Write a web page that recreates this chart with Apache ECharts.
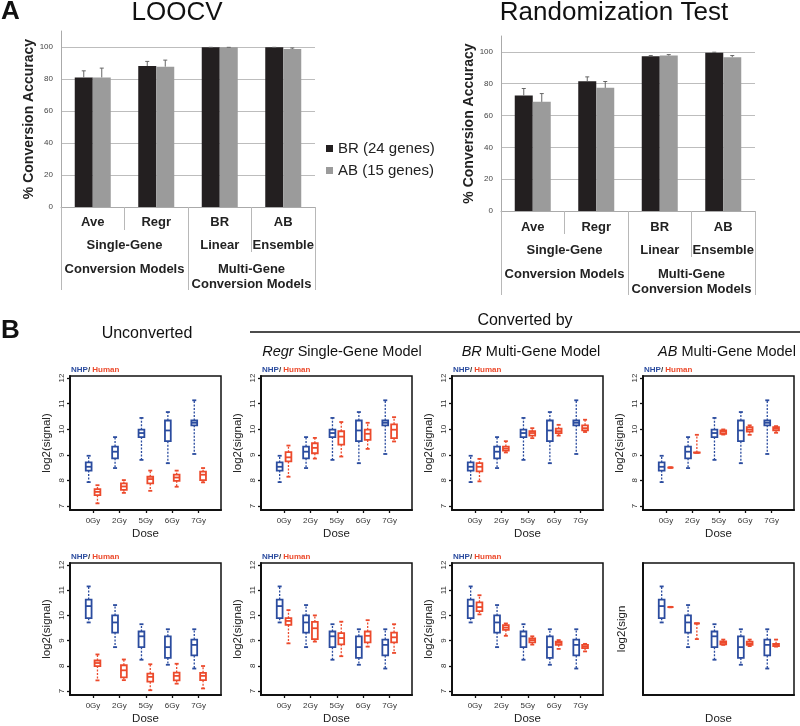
<!DOCTYPE html>
<html>
<head>
<meta charset="UTF-8">
<script src="https://cdn.jsdelivr.net/npm/echarts@6.0.0/dist/echarts.min.js"></script>
<style>
body { margin:0; padding:0; background:#fff; }
#chart { width:800px; height:726px; }
</style>
</head>
<body><div id="chart"></div>
<script>
// ---- panel A: conversion accuracy ----
var models = ['Ave', 'Regr', 'BR', 'AB'];
var modelRow2 = ['', '', 'Linear', 'Ensemble'];
var groupRow2 = ['Single-Gene', ' '];
var groupRow3 = ['Conversion Models', 'Multi-Gene\nConversion Models'];
var accTicks = [0, 20, 40, 60, 80, 100];

var loocvBR = [81.0, 88.1, 99.8, 99.8];
var loocvBRErr = [85.1, 91.0, 99.8, 99.8];
var loocvAB = [81.0, 87.7, 99.8, 98.7];
var loocvABErr = [86.8, 91.8, 99.8, 99.4];

var randBR = [72.6, 81.6, 97.3, 99.4];
var randBRErr = [77.0, 84.3, 97.7, 99.8];
var randAB = [68.6, 77.4, 97.7, 96.7];
var randABErr = [73.8, 81.4, 98.3, 97.7];

// ---- panel B: log2(signal) boxes, [low, Q1, median, Q3, high] per dose ----
var doses = ['0Gy', '2Gy', '5Gy', '6Gy', '7Gy'];
var signalTicks = [7, 8, 9, 10, 11, 12];

var nhpTop = [[7.93, 8.38, 8.53, 8.70, 8.96], [8.48, 8.86, 9.12, 9.32, 9.69], [8.80, 9.69, 9.85, 9.98, 10.44], [8.67, 9.53, 9.95, 10.34, 10.67], [9.03, 10.15, 10.25, 10.34, 11.13]];
var unconvTop = [[7.10, 7.42, 7.55, 7.66, 7.81], [7.51, 7.63, 7.76, 7.88, 8.01], [7.59, 7.88, 8.05, 8.14, 8.38], [7.75, 7.98, 8.11, 8.22, 8.38], [7.92, 8.01, 8.22, 8.34, 8.48]];
var regrTop = [[8.14, 8.74, 8.90, 9.10, 9.36], [8.85, 9.06, 9.27, 9.45, 9.66], [8.93, 9.40, 9.71, 9.92, 10.28], [9.23, 9.58, 9.82, 9.98, 10.25], [9.52, 9.65, 9.98, 10.19, 10.47]];
var brTop = [[7.96, 8.35, 8.53, 8.67, 8.84], [9.09, 9.16, 9.24, 9.32, 9.53], [9.65, 9.75, 9.85, 9.92, 10.04], [9.75, 9.85, 9.92, 10.02, 10.17], [9.89, 9.95, 10.04, 10.15, 10.37]];
var abTop = [[8.49, 8.50, 8.50, 8.50, 8.51], [9.08, 9.08, 9.08, 9.09, 9.78], [9.79, 9.82, 9.90, 9.95, 9.99], [9.78, 9.91, 9.99, 10.08, 10.15], [9.86, 9.95, 10.02, 10.08, 10.12]];

var nhpBot = [[9.72, 9.89, 10.37, 10.63, 11.15], [8.74, 9.32, 9.72, 10.00, 10.41], [8.24, 8.74, 9.17, 9.36, 9.65], [8.04, 8.31, 8.74, 9.17, 9.45], [7.89, 8.41, 8.83, 9.04, 9.45]];
var unconvBot = [[7.42, 7.99, 8.11, 8.21, 8.45], [7.43, 7.54, 7.82, 8.02, 8.25], [7.03, 7.37, 7.56, 7.69, 8.06], [7.29, 7.42, 7.60, 7.73, 8.08], [7.10, 7.43, 7.60, 7.72, 7.99]];
var regrBot = [[8.89, 9.62, 9.78, 9.89, 10.21], [8.96, 9.06, 9.49, 9.74, 10.00], [8.38, 8.85, 9.10, 9.30, 9.75], [8.76, 8.93, 9.19, 9.36, 9.81], [8.51, 8.93, 9.13, 9.32, 9.65]];
var brBot = [[10.04, 10.17, 10.33, 10.52, 10.80], [9.19, 9.43, 9.52, 9.61, 9.68], [8.84, 8.93, 9.02, 9.09, 9.17], [8.67, 8.83, 8.91, 8.96, 9.02], [8.57, 8.70, 8.76, 8.83, 8.87]];
var abBot = [[10.32, 10.33, 10.33, 10.33, 10.34], [9.06, 9.68, 9.68, 9.68, 9.68], [8.83, 8.85, 8.91, 8.97, 9.04], [8.78, 8.83, 8.88, 8.96, 9.04], [8.76, 8.78, 8.83, 8.87, 9.04]];

var FONT = '"Liberation Sans", Arial, Helvetica, sans-serif';
var BLUE = '#2b4c9f', RED = '#ec4a2c', BLACK = '#231f20', GRAY = '#9b9b9b';

var grid = [], xAxis = [], yAxis = [], series = [], title = [];

function errRender(dx) {
  return function (params, api) {
    var p0 = api.coord([api.value(0), api.value(1)]);
    var p1 = api.coord([api.value(0), api.value(2)]);
    var x = p0[0] + dx;
    var st = { stroke: '#666', lineWidth: 1 };
    return { type: 'group', children: [
      { type: 'line', shape: { x1: x, y1: p0[1], x2: x, y2: p1[1] }, style: st },
      { type: 'line', shape: { x1: x - 2, y1: p1[1], x2: x + 2, y2: p1[1] }, style: st }
    ] };
  };
}

function addBarPanel(p, br, brErr, ab, abErr) {
  var gi = grid.length;
  grid.push({ left: p.left, top: p.top, width: p.width, height: p.height });
  var sep = { color: '#b8b8b8', width: 1 };
  function lab(extra) {
    return Object.assign({ fontFamily: FONT, fontWeight: 'bold', fontSize: 13, color: '#222', margin: p.margin, interval: 0 }, extra || {});
  }
  xAxis.push({ type: 'category', gridIndex: gi, position: 'bottom', data: models,
    axisLine: { lineStyle: { color: '#aaa' } },
    axisTick: { show: true, alignWithLabel: false, length: p.sep[0], interval: 0, lineStyle: sep }, axisLabel: lab() });
  var xi = xAxis.length - 1;
  xAxis.push({ type: 'category', gridIndex: gi, position: 'bottom', data: models, offset: p.sep[0],
    axisLine: { show: false },
    axisTick: { show: true, alignWithLabel: false, length: p.sep[1], interval: function (i) { return i !== 1; }, lineStyle: sep },
    axisLabel: lab({ formatter: function (v, i) { return modelRow2[i]; } }) });
  xAxis.push({ type: 'category', gridIndex: gi, position: 'bottom', data: groupRow2, offset: p.sep[0],
    axisLine: { show: false },
    axisTick: { show: true, alignWithLabel: false, length: p.sep[2], interval: 0, lineStyle: sep }, axisLabel: lab() });
  xAxis.push({ type: 'category', gridIndex: gi, position: 'bottom', data: groupRow3, offset: p.sep[0] * 2,
    axisLine: { show: false }, axisTick: { show: false }, axisLabel: lab({ lineHeight: 15 }) });
  yAxis.push({ type: 'value', gridIndex: gi, min: 0, max: 110,
    axisLine: { show: true, lineStyle: { color: '#aaa' } },
    axisTick: { show: false, customValues: accTicks },
    axisLabel: { customValues: accTicks, fontFamily: FONT, fontSize: 8, color: '#444', margin: 8 },
    splitLine: { lineStyle: { color: '#bdbdbd' } },
    name: '% Conversion Accuracy', nameLocation: 'middle', nameGap: p.nameGap,
    nameTextStyle: { fontFamily: FONT, fontWeight: 'bold', fontSize: 14, color: '#222' } });
  var yi = yAxis.length - 1;
  series.push({ type: 'bar', name: 'BR (24 genes)', xAxisIndex: xi, yAxisIndex: yi, data: br,
    barWidth: 18, barGap: '0%', itemStyle: { color: BLACK } });
  series.push({ type: 'bar', name: 'AB (15 genes)', xAxisIndex: xi, yAxisIndex: yi, data: ab,
    barWidth: 18, barGap: '0%', itemStyle: { color: GRAY } });
  series.push({ type: 'custom', xAxisIndex: xi, yAxisIndex: yi, renderItem: errRender(-9), z: 3,
    data: br.map(function (v, i) { return [i, v, brErr[i]]; }) });
  series.push({ type: 'custom', xAxisIndex: xi, yAxisIndex: yi, renderItem: errRender(9), z: 3,
    data: ab.map(function (v, i) { return [i, v, abErr[i]]; }) });
}

addBarPanel({ left: 61, top: 31, width: 254, height: 176, margin: 8.5, sep: [23, 22, 60], nameGap: 24 },
  loocvBR, loocvBRErr, loocvAB, loocvABErr);
addBarPanel({ left: 501, top: 36, width: 254, height: 175, margin: 9.5, sep: [23, 23, 61], nameGap: 22 },
  randBR, randBRErr, randAB, randABErr);

function boxRender(dx, color) {
  return function (params, api) {
    var i = api.value(0);
    var y = [1, 2, 3, 4, 5].map(function (d) { return api.coord([i, api.value(d)])[1]; });
    var x = api.coord([i, api.value(3)])[0] + dx;
    var hw = 2.9, cw = 2;
    var dash = { stroke: color, lineWidth: 1.3, lineDash: [2, 1.5] };
    var solid = { stroke: color, lineWidth: 1.8 };
    return { type: 'group', children: [
      { type: 'line', shape: { x1: x, y1: y[3], x2: x, y2: y[4] }, style: dash },
      { type: 'line', shape: { x1: x, y1: y[1], x2: x, y2: y[0] }, style: dash },
      { type: 'line', shape: { x1: x - cw, y1: y[4], x2: x + cw, y2: y[4] }, style: solid },
      { type: 'line', shape: { x1: x - cw, y1: y[0], x2: x + cw, y2: y[0] }, style: solid },
      { type: 'rect', shape: { x: x - hw, y: y[3], width: 2 * hw, height: y[1] - y[3] },
        style: { fill: '#fff', stroke: color, lineWidth: 1.8 } },
      { type: 'line', shape: { x1: x - hw, y1: y[2], x2: x + hw, y2: y[2] }, style: solid }
    ] };
  };
}

var boxCols = [70, 261, 452, 643];
var boxRows = [
  { top: 376, height: 134, min: 6.84, max: 12.08 },
  { top: 563, height: 134, min: 6.84, max: 12.08 }
];
var boxPanels = [
  { row: 0, col: 0, nhp: nhpTop, human: unconvTop },
  { row: 0, col: 1, nhp: nhpTop, human: regrTop },
  { row: 0, col: 2, nhp: nhpTop, human: brTop },
  { row: 0, col: 3, nhp: nhpTop, human: abTop },
  { row: 1, col: 0, nhp: nhpBot, human: unconvBot },
  { row: 1, col: 1, nhp: nhpBot, human: regrBot },
  { row: 1, col: 2, nhp: nhpBot, human: brBot },
  { row: 1, col: 3, nhp: nhpBot, human: abBot, bare: true }
];

boxPanels.forEach(function (bp) {
  var r = boxRows[bp.row], left = boxCols[bp.col];
  var gi = grid.length;
  grid.push({ left: left, top: r.top, width: 151, height: r.height, show: true,
    borderColor: '#111', borderWidth: 1.5 });
  var line = { show: true, onZero: false, lineStyle: { color: '#111', width: 2 } };
  var tick = { color: '#111', width: 1.3 };
  var nameStyle = { fontFamily: FONT, fontSize: 11.5, color: '#222' };
  xAxis.push({ type: 'value', gridIndex: gi, min: -0.87, max: 4.85, axisLine: line,
    axisTick: { show: !bp.bare, customValues: [0, 1, 2, 3, 4], length: 3, lineStyle: tick },
    axisLabel: { show: !bp.bare, customValues: [0, 1, 2, 3, 4], fontFamily: FONT, fontSize: 8, color: '#333', margin: 7,
      formatter: function (v) { return doses[Math.round(v)]; } },
    splitLine: { show: false },
    name: 'Dose', nameLocation: 'middle', nameGap: 18, nameTextStyle: nameStyle });
  yAxis.push({ type: 'value', gridIndex: gi, min: r.min, max: r.max, axisLine: line,
    axisTick: { show: !bp.bare, customValues: signalTicks, length: 3, lineStyle: tick },
    axisLabel: { show: !bp.bare, customValues: signalTicks, rotate: 90, fontFamily: FONT, fontSize: 8, color: '#333', margin: 4 },
    splitLine: { show: false },
    name: bp.bare ? 'log2(sign' : 'log2(signal)', nameLocation: 'middle', nameGap: bp.bare ? 15 : 17,
    nameTextStyle: nameStyle });
  var xi = xAxis.length - 1, yi = yAxis.length - 1;
  [[bp.nhp, -4.3, BLUE], [bp.human, 4.5, RED]].forEach(function (s) {
    series.push({ type: 'custom', xAxisIndex: xi, yAxisIndex: yi, renderItem: boxRender(s[1], s[2]),
      encode: { x: 0, y: [1, 2, 3, 4, 5] },
      data: s[0].map(function (b, i) { return [i].concat(b); }) });
  });
  if (!bp.bare) {
    title.push({ text: '{b|NHP}{k|/ }{r|Human}', left: left + 1, top: r.top - 10, padding: 0,
      textStyle: { fontFamily: FONT, fontSize: 8, rich: {
        b: { color: BLUE, fontSize: 8, fontFamily: FONT },
        k: { color: '#333', fontSize: 8, fontFamily: FONT },
        r: { color: RED, fontSize: 8, fontFamily: FONT } } } });
  }
});

function txt(text, x, y, size, extra) {
  title.push({ text: text, left: x, top: y, textAlign: extra && extra.align || 'center', padding: 0,
    textStyle: Object.assign({ fontFamily: FONT, fontSize: size, fontWeight: 'normal', color: '#111' }, extra && extra.style || {}) });
}
txt('A', 1, -1, 26, { align: 'left', style: { fontWeight: 'bold' } });
txt('LOOCV', 177, 0, 26);
txt('Randomization Test', 614, 0, 26);
txt('B', 1, 318, 26, { align: 'left', style: { fontWeight: 'bold' } });
txt('Unconverted', 147, 326, 16);
txt('Converted by', 525, 313, 16);
var italicRich = { i: { fontStyle: 'italic', fontSize: 14.5, fontFamily: FONT, color: '#111' } };
txt('{i|Regr} Single-Gene Model', 342, 344, 14.5, { style: { rich: italicRich } });
txt('{i|BR} Multi-Gene Model', 531, 344, 14.5, { style: { rich: italicRich } });
txt('{i|AB} Multi-Gene Model', 727, 344, 14.5, { style: { rich: italicRich } });

var chart = echarts.init(document.getElementById('chart'));
chart.setOption({
  animation: false,
  backgroundColor: '#fff',
  title: title,
  legend: { data: ['BR (24 genes)', 'AB (15 genes)'], orient: 'vertical', left: 326, top: 141,
    icon: 'rect', itemWidth: 7, itemHeight: 7, itemGap: 7, padding: 0,
    textStyle: { fontFamily: FONT, fontSize: 15, color: '#222' } },
  graphic: [{ type: 'line', shape: { x1: 250, y1: 332, x2: 800, y2: 332 }, style: { stroke: '#111', lineWidth: 1.5 } }],
  grid: grid,
  xAxis: xAxis,
  yAxis: yAxis,
  series: series
});
</script>
</body></html>
